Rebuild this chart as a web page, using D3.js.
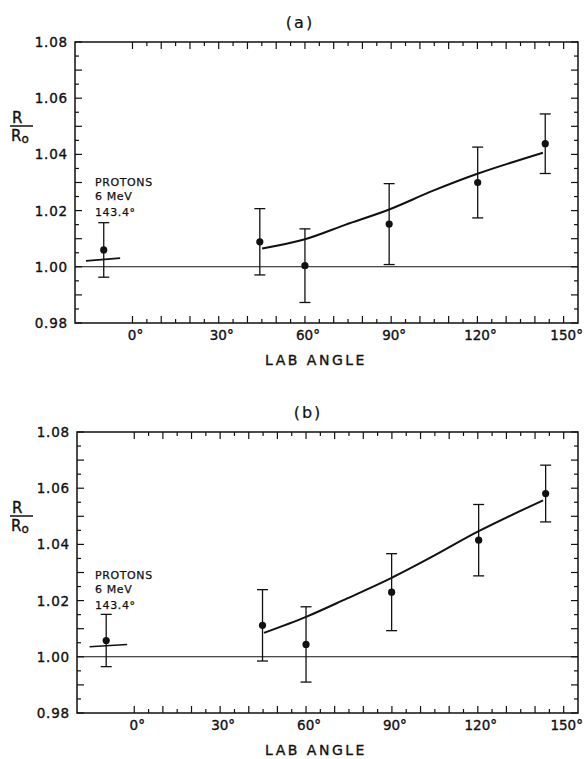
<!DOCTYPE html>
<html><head><meta charset="utf-8">
<script src="https://cdn.jsdelivr.net/npm/d3@7"></script>
<style>
body{margin:0;background:#fff;}
text{font-family:"DejaVu Sans",sans-serif;fill:#111;stroke:#111;stroke-width:0.35px;}
</style></head>
<body><svg id="c" width="587" height="759"></svg>
<script>
// ---- data ----
const yTickLabels = ["0.98","1.00","1.02","1.04","1.06","1.08"];
const yTickValues = [0.98,1.00,1.02,1.04,1.06,1.08];
const xTickValues = [0,30,60,90,120,150];
const xTickLabels = ["0°","30°","60°","90°","120°","150°"];

// panel (a)
const aAngles = [-10, 44.3, 60, 89.3, 120.1, 143.6];
const aValues = [1.006, 1.0089, 1.0004, 1.0152, 1.030, 1.0438];
const aErrors = [0.0097, 0.0118, 0.0131, 0.0144, 0.0126, 0.0106];
const aCurveAngles = [45.1, 60, 74.2, 89.3, 104.4, 120, 142.8];
const aCurveValues = [1.0065, 1.0098, 1.0150, 1.0204, 1.027, 1.0331, 1.0406];
const aShortAngles = [-16.2, -4.3];
const aShortValues = [1.0021, 1.0031];

// panel (b)
const bAngles = [-9.8, 44.8, 60, 89.9, 120.3, 143.7];
const bValues = [1.0058, 1.0112, 1.0044, 1.023, 1.0415, 1.0581];
const bErrors = [0.0093, 0.0127, 0.0134, 0.0137, 0.0127, 0.0101];
const bCurveAngles = [45.3, 60, 74.2, 89.9, 104.4, 120.3, 142.8];
const bCurveValues = [1.0085, 1.0142, 1.0207, 1.0281, 1.0358, 1.0447, 1.0557];
const bShortAngles = [-15.6, -2.5];
const bShortValues = [1.0036, 1.0044];

const svg = d3.select("#c");

function panel(cfg){
  const g = svg.append("g");
  const x = d3.scaleLinear().domain([-20,155]).range([cfg.left, cfg.right]);
  const y = d3.scaleLinear().domain([0.98,1.08]).range([cfg.bottom, cfg.top]);

  g.append("rect").attr("x",cfg.left).attr("y",cfg.top)
    .attr("width",cfg.right-cfg.left).attr("height",cfg.bottom-cfg.top)
    .attr("fill","none").attr("stroke","#111").attr("stroke-width",1.5);

  const xt = d3.range(0,151,5);
  g.selectAll(".xb").data(xt).join("line")
    .attr("x1",d=>x(d)).attr("x2",d=>x(d))
    .attr("y1",cfg.bottom).attr("y2",d=>cfg.bottom-(d%10===0?7:4))
    .attr("stroke","#111").attr("stroke-width",1.2);
  g.selectAll(".xt").data(xt).join("line")
    .attr("x1",d=>x(d)).attr("x2",d=>x(d))
    .attr("y1",cfg.top).attr("y2",d=>cfg.top+(d%10===0?7:4))
    .attr("stroke","#111").attr("stroke-width",1.2);
  const yt = d3.range(0,21).map(i=>0.98+i*0.005);
  g.selectAll(".yl").data(yt).join("line")
    .attr("y1",d=>y(d)).attr("y2",d=>y(d))
    .attr("x1",cfg.left).attr("x2",(d,i)=>cfg.left+(i%2===0?7:4))
    .attr("stroke","#111").attr("stroke-width",1.2);
  g.selectAll(".yr").data(yt).join("line")
    .attr("y1",d=>y(d)).attr("y2",d=>y(d))
    .attr("x1",cfg.right).attr("x2",(d,i)=>cfg.right-(i%2===0?7:4))
    .attr("stroke","#111").attr("stroke-width",1.2);

  g.selectAll(".ylab").data(yTickValues).join("text")
    .attr("x",cfg.left-7).attr("y",d=>y(d)+5)
    .attr("text-anchor","end").attr("font-size",13.5).attr("letter-spacing",0.8)
    .text((d,i)=>yTickLabels[i]);
  g.selectAll(".xlab").data(xTickValues).join("text")
    .attr("x",d=>x(d)+3).attr("y",cfg.bottom+17)
    .attr("text-anchor","middle").attr("font-size",13.5)
    .text((d,i)=>xTickLabels[i]);

  g.append("text").attr("x",316).attr("y",cfg.bottom+42)
    .attr("text-anchor","middle").attr("font-size",14).attr("letter-spacing",2.5)
    .text("LAB ANGLE");
  g.append("text").attr("x",cfg.titleX).attr("y",cfg.top-14)
    .attr("text-anchor","middle").attr("font-size",16).attr("letter-spacing",2)
    .style("stroke-width","0.2px")
    .text(cfg.title);
  const ry = cfg.top+81;
  g.append("text").attr("x",12).attr("y",ry).attr("font-size",15).text("R");
  g.append("line").attr("x1",10).attr("x2",33).attr("y1",ry+3).attr("y2",ry+3)
    .attr("stroke","#111").attr("stroke-width",1.5);
  const ro = g.append("text").attr("x",11).attr("y",ry+18).attr("font-size",15);
  ro.append("tspan").text("R");
  ro.append("tspan").attr("font-size",12).attr("dy",2).text("o");

  const ann = ["PROTONS","6 MeV","143.4°"];
  const annDy = [0,13.5,30];
  g.selectAll(".ann").data(ann).join("text")
    .attr("x",95).attr("y",(d,i)=>cfg.annY+annDy[i])
    .attr("font-size",11).attr("letter-spacing",0.6).style("stroke-width","0.25px").text(d=>d);

  g.append("line").attr("x1",cfg.left).attr("x2",cfg.right)
    .attr("y1",y(1)).attr("y2",y(1)).attr("stroke","#111").attr("stroke-width",1.1);

  const line = d3.line().x(d=>x(d[0])).y(d=>y(d[1])).curve(d3.curveCatmullRom.alpha(0.5));
  g.append("path").datum(d3.zip(cfg.curveA,cfg.curveV)).attr("d",line)
    .attr("fill","none").attr("stroke","#111").attr("stroke-width",2);
  g.append("path").datum(d3.zip(cfg.shortA,cfg.shortV)).attr("d",d3.line().x(d=>x(d[0])).y(d=>y(d[1])))
    .attr("fill","none").attr("stroke","#111").attr("stroke-width",1.6);

  const pts = d3.zip(cfg.ang,cfg.val,cfg.err);
  const eb = g.selectAll(".eb").data(pts).join("g");
  eb.append("line").attr("x1",d=>x(d[0])).attr("x2",d=>x(d[0]))
    .attr("y1",d=>y(d[1]+d[2])).attr("y2",d=>y(d[1]-d[2]))
    .attr("stroke","#111").attr("stroke-width",1.3);
  eb.append("line").attr("x1",d=>x(d[0])-5.5).attr("x2",d=>x(d[0])+5.5)
    .attr("y1",d=>y(d[1]+d[2])).attr("y2",d=>y(d[1]+d[2]))
    .attr("stroke","#111").attr("stroke-width",1.3);
  eb.append("line").attr("x1",d=>x(d[0])-5.5).attr("x2",d=>x(d[0])+5.5)
    .attr("y1",d=>y(d[1]-d[2])).attr("y2",d=>y(d[1]-d[2]))
    .attr("stroke","#111").attr("stroke-width",1.3);
  eb.append("circle").attr("cx",d=>x(d[0])).attr("cy",d=>y(d[1])).attr("r",3.6).attr("fill","#111");
}

panel({left:75,right:578,top:42,bottom:323,title:"(a)",titleX:300,annY:186,
  ang:aAngles,val:aValues,err:aErrors,curveA:aCurveAngles,curveV:aCurveValues,
  shortA:aShortAngles,shortV:aShortValues});
panel({left:77,right:578,top:432,bottom:713,title:"(b)",titleX:308,annY:579,
  ang:bAngles,val:bValues,err:bErrors,curveA:bCurveAngles,curveV:bCurveValues,
  shortA:bShortAngles,shortV:bShortValues});
</script></body></html>
